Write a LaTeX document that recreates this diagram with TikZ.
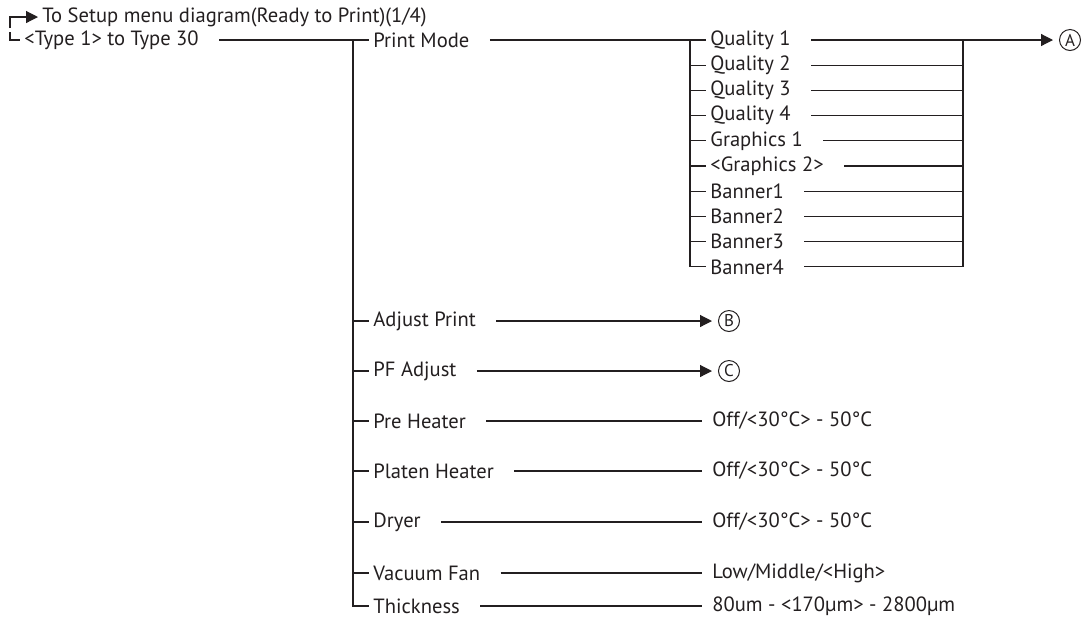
\documentclass[tikz,border=0pt]{standalone}
\usepackage{fontspec}
\setmainfont{PT Sans}
\usepackage{tikz}
\usetikzlibrary{positioning, arrows.meta}
\definecolor{ink}{RGB}{35,31,32}
\tikzset{
  lbl/.style={anchor=west, inner xsep=2pt, inner ysep=1pt, text=ink,
    font=\fontsize{10.3pt}{12pt}\selectfont},
  circ/.style={anchor=west, circle, draw=ink, line width=0.5pt, text=ink,
    inner sep=0pt, minimum size=10.5pt, font=\fontsize{8.5pt}{9pt}\selectfont},
  wire/.style={draw=ink, line width=0.6pt},
  tip/.style={wire, -{Triangle[length=6pt,width=6pt]}},
  gap/.style={shorten <=8pt}}

\begin{document}
\begin{tikzpicture}[x=0.5pt,y=-0.5pt]
\useasboundingbox (0,0) rectangle (1083,639);
% heading
\coordinate (h0) at (10,28);
\coordinate (h1) at (10,32);
\node[lbl] (title) at (38,17) {To Setup menu diagram(Ready to Print)(1/4)};
\node[lbl] (type) at (20,40) {<Type 1> to Type 30};
\draw[tip] (h0) |- (title.west);
\draw[wire] (h1) |- (type.west);
% main trunk
\coordinate (trunk) at (353,40);
\node[lbl] (pm) at (369,40) {Print Mode};
\draw[wire, gap] (type.east) -- (pm.west);
% print modes
\coordinate (jl) at (690,40);
\coordinate (jr) at (963,40);
\foreach \name/\txt [count=\i from 0] in {q1/Quality 1, q2/Quality 2, q3/Quality 3,
    q4/Quality 4, g1/Graphics 1, g2/<Graphics 2>, b1/Banner1, b2/Banner2,
    b3/Banner3, b4/Banner4}{
  \node[lbl] (\name) at (706,{40+25.2*\i}) {\txt};
  \draw[wire] (jl |- \name.west) -- (\name.west);
  \draw[wire, gap] (\name.east) -- (\name.east -| jr);
}
\draw[wire, gap] (pm.east) -- (jl);
\draw[wire] (jl) -- (jl |- b4.west);
\draw[wire] (jr) -- (jr |- b4.east);
\node[circ] (ca) at (1059,40) {A};
\draw[tip, shorten >=3pt] (jr) -- (ca.west);
% other settings
\node[lbl] (adj) at (369,321) {Adjust Print};
\node[lbl] (pf) at (369,371) {PF Adjust};
\node[lbl] (pre) at (369,421) {Pre Heater};
\node[lbl] (plt) at (369,471) {Platen Heater};
\node[lbl] (dry) at (369,522) {Dryer};
\node[lbl] (fan) at (369,573) {Vacuum Fan};
\node[lbl] (thk) at (369,606) {Thickness};
\draw[wire] (trunk) -- (trunk |- thk.west) -- (thk.west);
\foreach \name in {adj, pf, pre, plt, dry, fan}
  \draw[wire] (trunk |- \name.west) -- (\name.west);
\node[circ] (cb) at (718,321) {B};
\node[circ] (cc) at (718,371) {C};
\draw[tip, gap, shorten >=3pt] (adj.east) -- (cb.west);
\draw[tip, gap, shorten >=3pt] (pf.east) -- (cc.west);
\node[lbl] (vpre) at (708,421) {Off/<30°C> - 50°C};
\node[lbl] (vplt) at (708,471) {Off/<30°C> - 50°C};
\node[lbl] (vdry) at (708,522) {Off/<30°C> - 50°C};
\node[lbl] (vfan) at (708,573) {Low/Middle/<High>};
\node[lbl] (vthk) at (708,606) {80um - <170µm> - 2800µm};
\draw[wire, gap, shorten >=3pt] (pre.east) -- (vpre.west);
\draw[wire, gap, shorten >=3pt] (plt.east) -- (vplt.west);
\draw[wire, gap, shorten >=3pt] (dry.east) -- (vdry.west);
\draw[wire, gap, shorten >=3pt] (fan.east) -- (vfan.west);
\draw[wire, gap, shorten >=3pt] (thk.east) -- (vthk.west);
\end{tikzpicture}
\end{document}
